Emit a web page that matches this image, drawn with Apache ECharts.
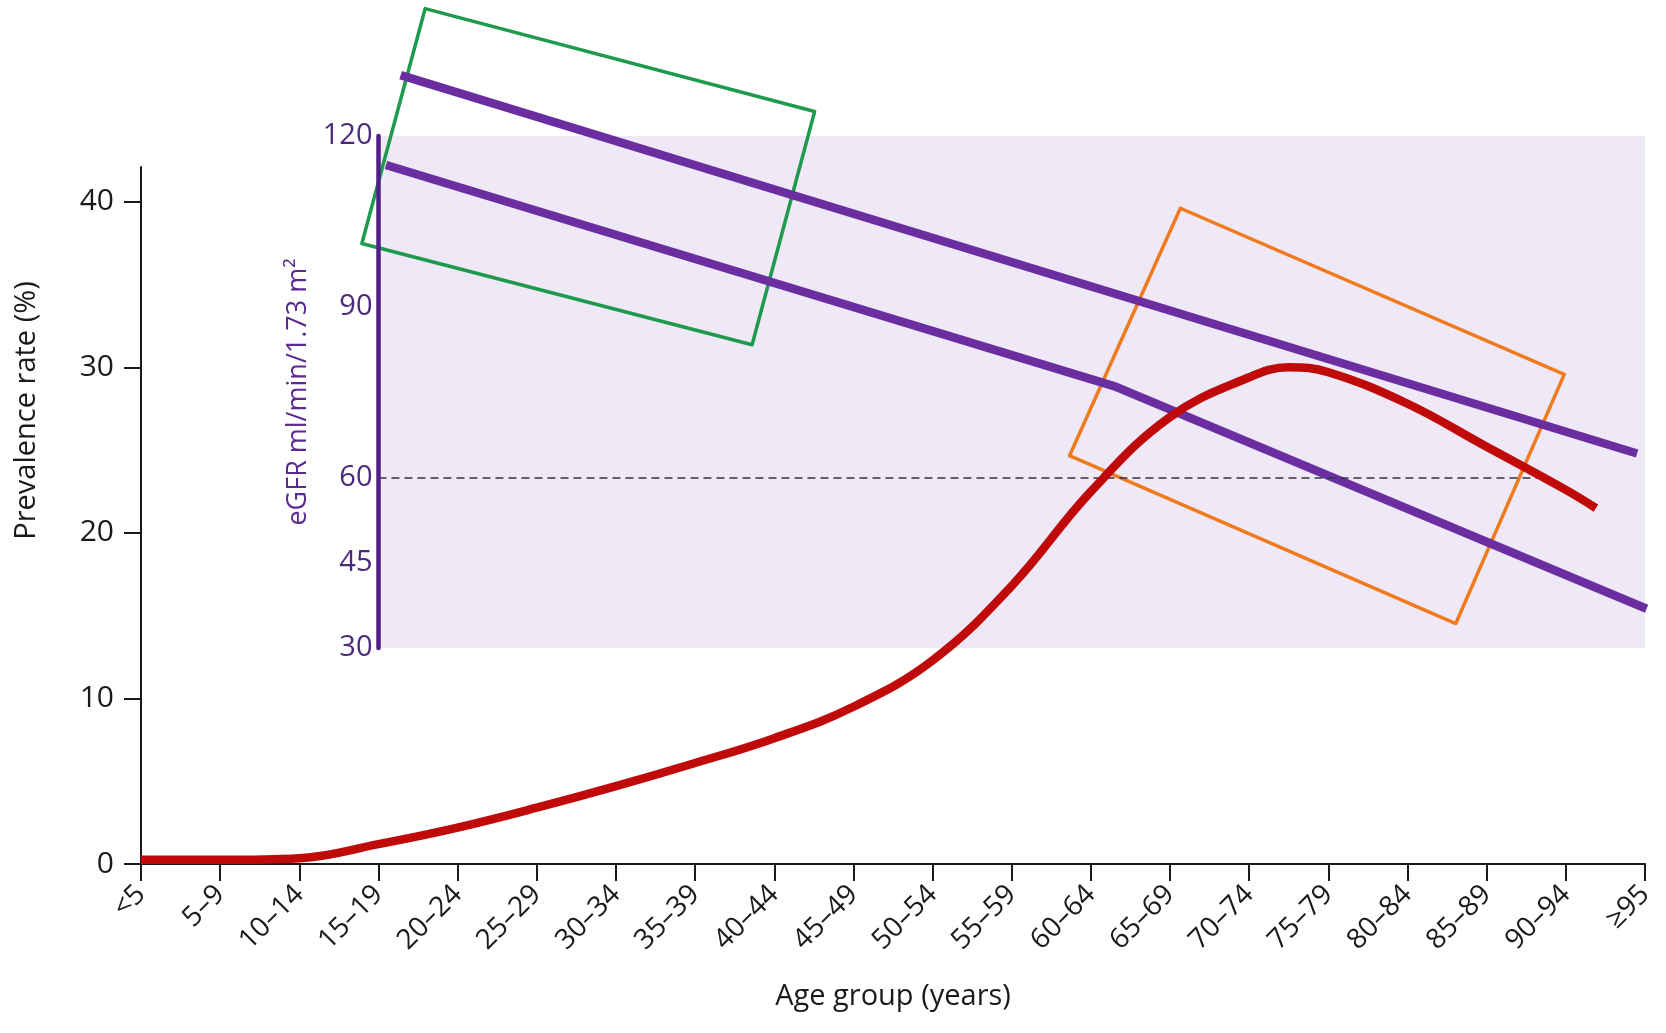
<!DOCTYPE html>
<html>
<head>
<meta charset="utf-8">
<script src="https://cdn.jsdelivr.net/npm/echarts@6/dist/echarts.min.js"></script>
<style>
html,body{margin:0;padding:0;background:#fff;}
#chart{width:1666px;height:1033px;}
</style>
</head>
<body>
<div id="chart"></div>
<script>
// ---- data ----
const ageGroups = ['<5','5–9','10–14','15–19','20–24','25–29','30–34','35–39','40–44','45–49',
  '50–54','55–59','60–64','65–69','70–74','75–79','80–84','85–89','90–94','≥95'];
const prevalenceTicks = [0, 10, 20, 30, 40];
const egfrTicks = [30, 45, 60, 90, 120];
// prevalence (%): positions on the age-group axis, with the peak and the end point
const prevalenceX = [0,1,2,3,4,5,6,7,8,9,10,11,12,13,14,14.5,15,16,17,18,18.38];
const prevalence  = [0.25,0.25,0.35,1.2,2.2,3.4,4.7,6.1,7.6,9.5,12.3,16.8,22.5,27.0,29.4,30.0,29.7,27.8,25.2,22.6,21.5];
// eGFR lines: [age-group position, eGFR]
const egfrUpper = [[3.28,130.7],[18.9,64.2]];
const egfrLower = [[3.095,114.9],[12.3,76.0],[19.02,36.9]];
// annotation boxes: corners [age-group position, eGFR]
const greenBox  = [[3.59,142.4],[8.51,124.3],[7.72,83.3],[2.79,101.1],[3.59,142.4]];
const orangeBox = [[13.13,107.3],[17.98,78.1],[16.61,34.3],[11.73,63.8],[13.13,107.3]];
// shaded eGFR band and threshold line
const bandFrom = 3, bandTo = 19, bandLow = 29, bandHigh = 120;
const thresholdValue = 60;
const thresholdFrom = 3;
const thresholdTo = 17.77;
const egfrAxisAt = 3;   // eGFR axis sits on the 15–19 group

// ---- chart ----
const FONT = 'Open Sans';
const purple = '#6a2ea0';
const purpleDark = '#4f1f86';
const GRID_LEFT = 141, GRID_RIGHT = 21, W = 1666;
const step = (W - GRID_LEFT - GRID_RIGHT) / (ageGroups.length - 1);
const chart = echarts.init(document.getElementById('chart'), null, {renderer:'canvas'});
const option = {
  animation: false,
  backgroundColor: '#fff',
  grid: [
    {left:GRID_LEFT, right:GRID_RIGHT, top:167, bottom:169},
    {left:GRID_LEFT, right:GRID_RIGHT, top:136, bottom:385}
  ],
  xAxis: [
    {type:'value', gridIndex:0, min:0, max:19, interval:1,
     splitLine:{show:false},
     axisLine:{show:true, lineStyle:{color:'#1a1a1a', width:2}},
     axisTick:{show:true, length:17, lineStyle:{color:'#1a1a1a', width:2}},
     axisLabel:{rotate:45, margin:26, fontFamily:FONT, fontSize:28, color:'#1a1a1a',
       formatter: v => ageGroups[v] !== undefined ? ageGroups[v] : ''},
     name:'Age group (years)', nameLocation:'middle', nameGap:118,
     nameTextStyle:{fontFamily:FONT, fontSize:29, color:'#1a1a1a'}},
    {type:'value', gridIndex:1, min:0, max:19, show:false}
  ],
  yAxis: [
    {type:'value', gridIndex:0, min:0, max:42.1,
     splitLine:{show:false},
     axisLine:{show:true, lineStyle:{color:'#1a1a1a', width:2}},
     axisTick:{show:true, length:17, customValues:prevalenceTicks, lineStyle:{color:'#1a1a1a', width:2}},
     axisLabel:{customValues:prevalenceTicks, margin:27, fontFamily:FONT, fontSize:30, color:'#1a1a1a'},
     name:'Prevalence rate (%)', nameLocation:'middle', nameGap:100,
     nameTextStyle:{fontFamily:FONT, fontSize:29, color:'#1a1a1a', padding:[0,0,0,210]}},
    {type:'value', gridIndex:1, min:30, max:120, offset:-step*egfrAxisAt, z:6,
     splitLine:{show:false},
     axisLine:{show:true, lineStyle:{color:purpleDark, width:4.5}},
     axisTick:{show:false},
     axisLabel:{customValues:egfrTicks, margin:6, fontFamily:FONT, fontSize:29, color:'#4b2a7c'},
     name:'eGFR ml/min/1.73 m²', nameLocation:'middle', nameGap:58,
     nameTextStyle:{fontFamily:FONT, fontSize:27, color:'#5a2a90'}}
  ],
  series: [
    {type:'line', name:'band', xAxisIndex:1, yAxisIndex:1, data:[], silent:true, z:1, clip:false,
     markArea:{silent:true, itemStyle:{color:'#efe8f6'},
       data:[[{coord:[bandFrom, bandLow]},{coord:[bandTo, bandHigh]}]]},
     markLine:{silent:true, symbol:'none', label:{show:false},
       lineStyle:{type:[8,5], color:'#333344', width:1.5},
       data:[[{coord:[thresholdFrom, thresholdValue]},{coord:[thresholdTo, thresholdValue]}]]}},
    {type:'line', name:'green box', xAxisIndex:1, yAxisIndex:1, data:greenBox, clip:false,
     showSymbol:false, symbol:'none', z:3,
     lineStyle:{color:'#1e9a4c', width:3.5, join:'round', cap:'round'}},
    {type:'line', name:'orange box', xAxisIndex:1, yAxisIndex:1, data:orangeBox, clip:false,
     showSymbol:false, symbol:'none', z:3,
     lineStyle:{color:'#f07a1e', width:3.5, join:'round', cap:'round'}},
    {type:'line', name:'eGFR upper', xAxisIndex:1, yAxisIndex:1, data:egfrUpper, clip:false,
     showSymbol:false, symbol:'none', z:4,
     lineStyle:{color:purple, width:8.5, cap:'butt'}},
    {type:'line', name:'eGFR lower', xAxisIndex:1, yAxisIndex:1, data:egfrLower, clip:false,
     showSymbol:false, symbol:'none', z:4,
     lineStyle:{color:purple, width:8.5, cap:'butt', join:'miter'}},
    {type:'line', name:'prevalence', xAxisIndex:0, yAxisIndex:0,
     data: prevalenceX.map((x,i)=>[x, prevalence[i]]), clip:false,
     smooth:0.4, showSymbol:false, symbol:'none', z:5,
     lineStyle:{color:'#c00a0a', width:8.5, cap:'butt'}}
  ]
};
chart.setOption(option);
</script>
</body>
</html>
